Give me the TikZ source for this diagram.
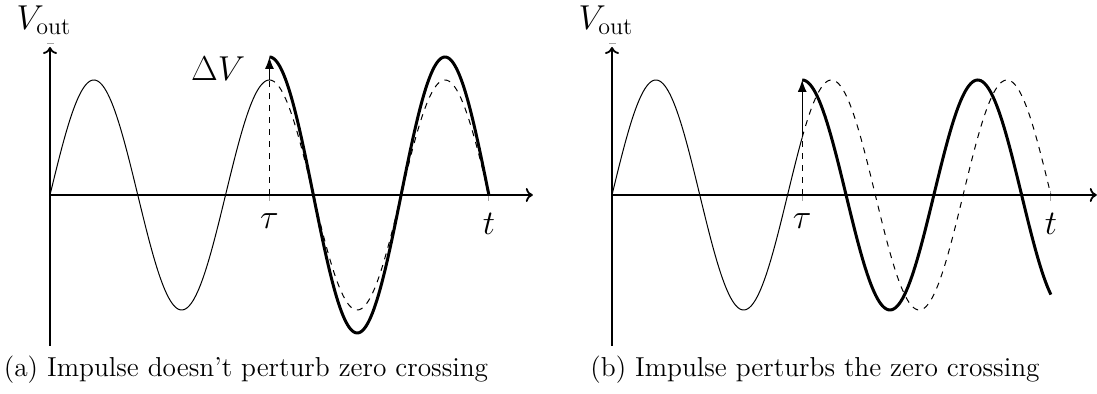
\documentclass[tikz,border=0pt]{standalone}
\usepackage{amsmath}
\usepackage{tikz}
\usetikzlibrary{arrows.meta,positioning}

\begin{document}
\begin{tikzpicture}[
  x=13.97pt, y=57.5pt,
  axis/.style={line width=0.9pt, -{To[length=3.5pt,width=7pt]}},
  tickmark/.style={gray!70, line width=0.5pt},
  wave/.style={line width=0.5pt, samples=150, smooth},
  kicked/.style={line width=1.5pt, samples=150, smooth},
  ghost/.style={line width=0.5pt, dashed, samples=150, smooth},
  guide/.style={line width=0.5pt, dashed},
  kick/.style={line width=0.5pt, -{Latex[length=6pt,width=4.5pt]}},
  lbl/.style={font=\fontsize{17}{20}\selectfont, inner sep=0pt},
  captext/.style={font=\fontsize{13.7}{16}\selectfont, inner sep=0pt, anchor=base}
]
\useasboundingbox (0pt,0pt) rectangle (548.5pt,197pt);

% (a) impulse at the peak
\begin{scope}[shift={(25pt,99.5pt)}]
\coordinate (oa) at (0,0);
\coordinate (ya0) at (0,-1.313);
\coordinate (ya1) at (0,1.287);
\coordinate (yta) at (0,1.313);
\coordinate (xa1) at (17.28,0);
\coordinate (taua) at ({5*pi/2},0);
\coordinate (ta) at ({5*pi},0);
\coordinate (pa) at ({5*pi/2},1);
\coordinate (ma) at ({5*pi/2},1.1);
\coordinate (qa) at ({5*pi/2},1.2);
\draw[tickmark] ([xshift=-1.5pt]yta) -- ([xshift=2pt]yta);
\draw[tickmark] ([yshift=2pt]taua) -- ([yshift=-3pt]taua);
\draw[tickmark] ([yshift=2pt]ta) -- ([yshift=-3pt]ta);
\draw[axis] (ya0) -- (ya1);
\draw[axis] (oa) -- (xa1);
\draw[wave] plot[domain=0:{5*pi/2}] (\x,{sin(\x r)});
\draw[ghost] plot[domain={5*pi/2}:{5*pi}] (\x,{sin(\x r)});
\draw[kicked] plot[domain={5*pi/2}:{5*pi}] (\x,{1.2*sin(\x r)});
\draw[guide] (taua) -- (pa);
\draw[kick] (pa) -- (qa);
\node[lbl] (va) at (-0.215,1.52) {$V_{\mathrm{out}}$};
\node[lbl, below=9pt of taua] (taulbla) {$\tau$};
\node[lbl, below=9pt of ta] (tlbla) {$t$};
\node[lbl, left=12pt of ma] (dva) {$\Delta V$};
\end{scope}

% (b) impulse on the rising edge
\begin{scope}[shift={(306pt,99.5pt)}]
\coordinate (ob) at (0,0);
\coordinate (yb0) at (0,-1.313);
\coordinate (yb1) at (0,1.287);
\coordinate (ytb) at (0,1.313);
\coordinate (xb1) at (17.35,0);
\coordinate (taub) at ({13*pi/6},0);
\coordinate (tb) at ({5*pi},0);
\coordinate (pb) at ({13*pi/6},0.5);
\coordinate (qb) at ({13*pi/6},1);
\draw[tickmark] ([xshift=-1.5pt]ytb) -- ([xshift=2pt]ytb);
\draw[tickmark] ([yshift=2pt]taub) -- ([yshift=-3pt]taub);
\draw[tickmark] ([yshift=2pt]tb) -- ([yshift=-3pt]tb);
\draw[axis] (yb0) -- (yb1);
\draw[axis] (ob) -- (xb1);
\draw[wave] plot[domain=0:{13*pi/6}] (\x,{sin(\x r)});
\draw[ghost] plot[domain={13*pi/6}:{5*pi}] (\x,{sin(\x r)});
\draw[kicked] plot[domain={13*pi/6}:{5*pi}] (\x,{cos((\x-13*pi/6) r)});
\draw[guide] (taub) -- (pb);
\draw[kick] (pb) -- (qb);
\node[lbl] (vb) at (-0.215,1.52) {$V_{\mathrm{out}}$};
\node[lbl, below=9pt of taub] (taulblb) {$\tau$};
\node[lbl, below=9pt of tb] (tlblb) {$t$};
\end{scope}

\node[captext] (capa) at (123pt,8.5pt) {(a) Impulse doesn't perturb zero crossing};
\node[captext] (capb) at (407.5pt,8.5pt) {(b) Impulse perturbs the zero crossing};
\end{tikzpicture}
\end{document}
